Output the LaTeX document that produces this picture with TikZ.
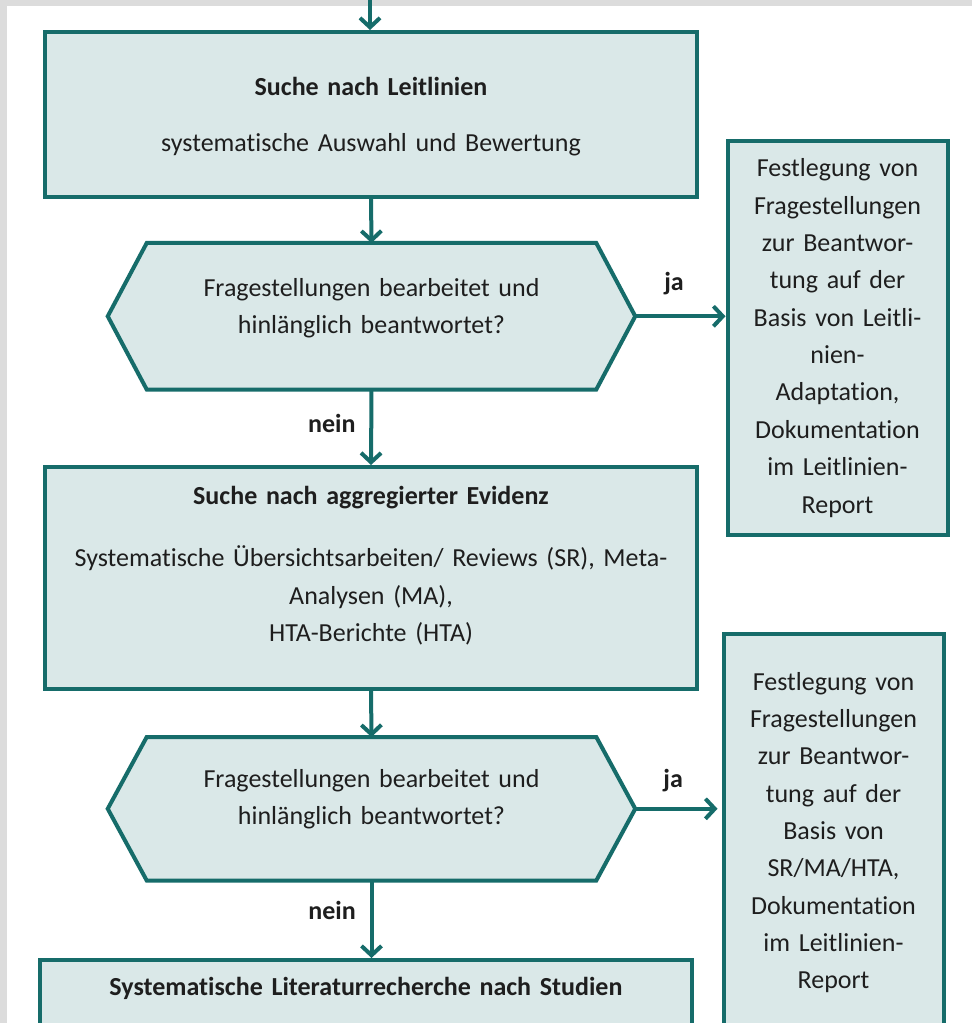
\documentclass[tikz,border=0pt]{standalone}
\usepackage{fontspec}
\setmainfont{Carlito}[Ligatures=NoCommon]
\usetikzlibrary{arrows.meta,backgrounds}
\definecolor{flowteal}{RGB}{22,108,106}
\definecolor{flowfill}{RGB}{218,232,232}
\definecolor{framegray}{RGB}{220,220,220}
\definecolor{inkgray}{RGB}{30,30,30}

\begin{document}
\begin{tikzpicture}
[
	x=0.75pt,y=-0.75pt,
	box/.style={rectangle,draw=flowteal,fill=flowfill,line width=3pt,inner xsep=6pt,inner ysep=0pt,text width=477pt,align=center,text=inkgray},
	sidebox/.style={box,text width=153pt},
	question/.style={rectangle,inner sep=0pt,text width=395.25pt,align=center,text=inkgray},
	hexline/.style={draw=flowteal,fill=flowfill,line width=3pt,line join=miter},
	flow/.style={draw=flowteal,line width=3pt,-{Straight Barb[length=7pt,width=15pt]}},
	answer/.style={font=\fontsize{19.5}{28}\selectfont\bfseries,text=inkgray},
	font=\fontsize{19.5}{28}\selectfont
]

	\useasboundingbox (0,0) rectangle (972,1023);

	\coordinate (start) at (370,0);

	\node[box,anchor=north,text height=48pt,text depth=75.75pt] at (371,30) (leit) {\textbf{Suche nach Leitlinien}\\[14pt]systematische Auswahl und Bewertung};
	\node[question,anchor=north,text height=39.75pt,text depth=69.75pt] at (371.5,243) (frage1) {Fragestellungen bearbeitet und\\hinlänglich beantwortet?};
	\node[sidebox,anchor=north,text height=27pt,text depth=268.5pt] at (837.5,139) (adapt1) {Festlegung von\\Fragestellungen\\zur Beantwor-\\tung auf der\\Basis von Leitli-\\nien-\\Adaptation,\\Dokumentation\\im Leitlinien-\\Report};

	\node[box,anchor=north,text height=27.75pt,text depth=138.75pt] at (371,465) (evid) {\textbf{Suche nach aggregierter Evidenz}\\[19pt]Systematische Übersichtsarbeiten/ Reviews (SR), Meta-\\Analysen (MA),\\HTA-Berichte (HTA)};
	\node[question,anchor=north,text height=37.5pt,text depth=69.75pt] at (371.5,737) (frage2) {Fragestellungen bearbeitet und\\hinlänglich beantwortet?};
	\node[sidebox,anchor=north,text height=42pt,text depth=309pt] at (833.5,632) (adapt2) {Festlegung von\\Fragestellungen\\zur Beantwor-\\tung auf der\\Basis von\\SR/MA/HTA,\\Dokumentation\\im Leitlinien-\\Report};

	\node[box,anchor=north,text height=26.25pt,text depth=150pt] at (366,958) (studien) {\textbf{Systematische Literaturrecherche nach Studien}};

	\begin{scope}[on background layer]
		\fill[white] (0,0) rectangle (972,1023);
		\fill[framegray] (0,0) rectangle (972,6);
		\fill[framegray] (0,0) rectangle (7,1023);
		\draw[hexline] (frage1.west) -- ([xshift=29.25pt]frage1.north west) -- ([xshift=-29.25pt]frage1.north east) -- (frage1.east) -- ([xshift=-29.25pt]frage1.south east) -- ([xshift=29.25pt]frage1.south west) -- cycle;
		\draw[hexline] (frage2.west) -- ([xshift=29.25pt]frage2.north west) -- ([xshift=-29.25pt]frage2.north east) -- (frage2.east) -- ([xshift=-29.25pt]frage2.south east) -- ([xshift=29.25pt]frage2.south west) -- cycle;
	\end{scope}

	\draw[flow] (start) -- (start |- leit.north);
	\draw[flow] (leit.south) -- (frage1.north);
	\draw[flow] (frage1.east) -- node[answer,above=11pt,pos=0.43] {ja} (frage1.east -| adapt1.west);
	\draw[flow] (frage1.south) -- node[answer,left=7pt,pos=0.45] {nein} (evid.north);

	\draw[flow] (evid.south) -- (frage2.north);
	\draw[flow,shorten >=3pt] (frage2.east) -- node[answer,above=8pt,pos=0.44] {ja} (frage2.east -| adapt2.west);
	\draw[flow] (frage2.south) -- node[answer,left=7pt,pos=0.38] {nein} (frage2.south |- studien.north);

\end{tikzpicture}
\end{document}
